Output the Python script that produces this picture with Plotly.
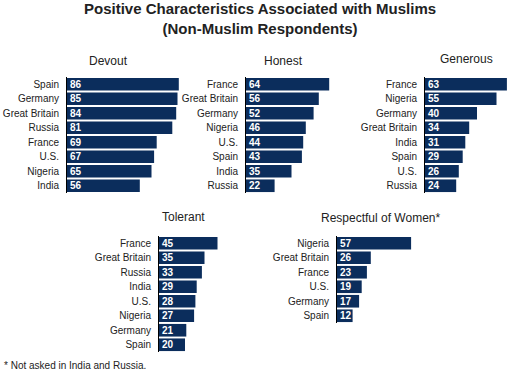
import plotly.graph_objects as go

W, H = 520, 374

devout_cats = ["Spain", "Germany", "Great Britain", "Russia", "France", "U.S.", "Nigeria", "India"]
devout_vals = [86, 85, 84, 81, 69, 67, 65, 56]

honest_cats = ["France", "Great Britain", "Germany", "Nigeria", "U.S.", "Spain", "India", "Russia"]
honest_vals = [64, 56, 52, 46, 44, 43, 35, 22]

generous_cats = ["France", "Nigeria", "Germany", "Great Britain", "India", "Spain", "U.S.", "Russia"]
generous_vals = [63, 55, 40, 34, 31, 29, 26, 24]

tolerant_cats = ["France", "Great Britain", "Russia", "India", "U.S.", "Nigeria", "Germany", "Spain"]
tolerant_vals = [45, 35, 33, 29, 28, 27, 21, 20]

respect_cats = ["Nigeria", "Great Britain", "France", "U.S.", "Germany", "Spain"]
respect_vals = [57, 26, 23, 19, 17, 12]

panel_titles = ["Devout", "Honest", "Generous", "Tolerant", "Respectful of Women*"]
main_title = "Positive Characteristics Associated with Muslims<br>(Non-Muslim Respondents)"
footnote = "* Not asked in India and Russia."

BAR = "#0b2d5c"
FONT = "Liberation Sans, Arial, sans-serif"
SCALE = 1.30   # px per unit
ROW = 14.5     # px per row

# (cats, vals, axis x px, top y px, x range max, title center x px, title y px)
panels = [
    (devout_cats, devout_vals, 67, 77, 100, 108, 61),
    (honest_cats, honest_vals, 246, 77, 100, 283, 61),
    (generous_cats, generous_vals, 425, 77, 70, 466, 59),
    (tolerant_cats, tolerant_vals, 159, 236, 100, 183, 217),
    (respect_cats, respect_vals, 337, 236, 100, 380, 218),
]

fig = go.Figure()
annotations = []
for i, (cats, vals, ax_x, top_y, rmax, tx, ty) in enumerate(panels):
    n = i + 1
    xa = "x" if n == 1 else f"x{n}"
    ya = "y" if n == 1 else f"y{n}"
    fig.add_trace(go.Bar(
        x=vals, y=cats, orientation="h", xaxis=xa, yaxis=ya,
        marker=dict(color=BAR, line=dict(width=0)),
        text=[str(v) for v in vals], textposition="inside",
        insidetextanchor="start",
        textfont=dict(color="white", size=10, family=FONT, weight="bold"),
        hoverinfo="skip", showlegend=False,
    ))
    x0 = ax_x / W
    x1 = (ax_x + SCALE * rmax) / W
    y_top = 1 - top_y / H
    y_bot = 1 - (top_y + ROW * len(cats)) / H
    key_x = "xaxis" if n == 1 else f"xaxis{n}"
    key_y = "yaxis" if n == 1 else f"yaxis{n}"
    fig.layout[key_x] = dict(domain=[x0, min(x1, 1)], range=[0, rmax], visible=False,
                             anchor=ya, fixedrange=True)
    fig.layout[key_y] = dict(domain=[y_bot, y_top], anchor=xa, type="category",
                             categoryorder="array", categoryarray=cats,
                             range=[len(cats) - 0.5, -0.5],
                             showline=True, linecolor="black", linewidth=1,
                             ticks="outside", ticklen=5, tickcolor="rgba(0,0,0,0)",
                             showgrid=False, zeroline=False,
                             tickfont=dict(size=10, color="#222222", family=FONT),
                             fixedrange=True)
    annotations.append(dict(text=panel_titles[i], x=tx / W, y=1 - ty / H,
                            xref="paper", yref="paper", showarrow=False,
                            xanchor="center", yanchor="middle",
                            font=dict(size=12, color="#222222", family=FONT)))

annotations.append(dict(text="<b>" + main_title.replace("<br>", "</b><br><b>") + "</b>",
                        x=0.5, y=1 - 19 / H, xref="paper", yref="paper",
                        showarrow=False, xanchor="center", yanchor="middle",
                        font=dict(size=15, color="#222222", family=FONT)))
annotations.append(dict(text=footnote, x=2 / W, y=1 - 365 / H, xref="paper", yref="paper",
                        showarrow=False, xanchor="left", yanchor="middle",
                        font=dict(size=10, color="#222222", family=FONT)))

fig.update_layout(width=W, height=H, margin=dict(l=0, r=0, t=0, b=0),
                  paper_bgcolor="white", plot_bgcolor="white",
                  bargap=0.13, annotations=annotations, showlegend=False,
                  uniformtext=dict(minsize=10, mode="show"))

fig.write_html("out.html", config={"displayModeBar": False},
               post_script="document.body.style.margin='0';document.body.style.padding='0';")
